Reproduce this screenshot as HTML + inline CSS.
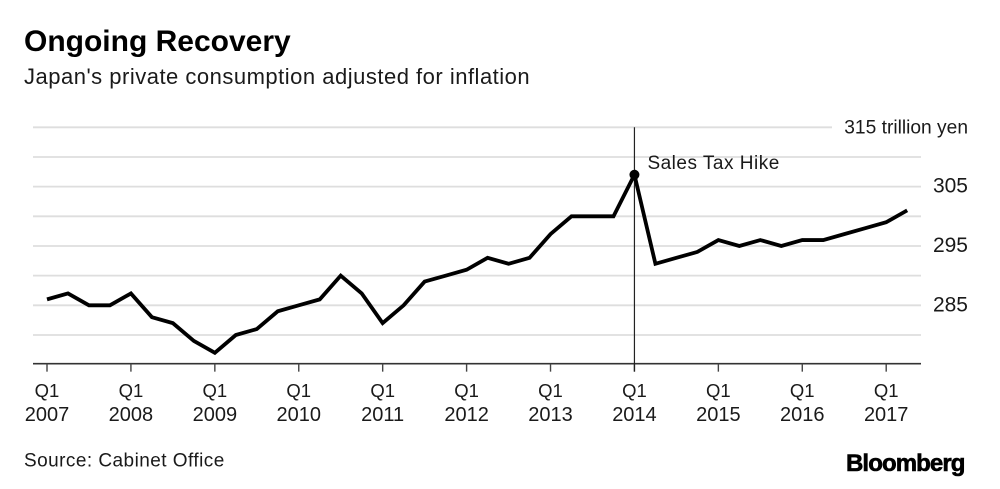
<!DOCTYPE html>
<html>
<head>
<meta charset="utf-8">
<style>
html,body{margin:0;padding:0;background:#fff;}
svg{display:block;}
text{font-family:"Liberation Sans",sans-serif;fill:#1a1a1a;}
</style>
</head>
<body>
<svg id="chart" width="1000" height="489" viewBox="0 0 1000 489" xmlns="http://www.w3.org/2000/svg">
<rect width="1000" height="489" fill="#fff"/>
<text x="24" y="51" font-size="30" font-weight="700" style="fill:#000">Ongoing Recovery</text>
<text x="24" y="84" font-size="22" letter-spacing="0.5">Japan's private consumption adjusted for inflation</text>
<g id="grid"></g>
<g id="yLabels"></g>
<g id="xAxis"></g>
<g id="annotation"></g>
<path id="line" fill="none" stroke="#000" stroke-width="3.8" stroke-linejoin="miter"/>
<circle id="dot" r="5" fill="#000"/>
<text x="24" y="466.5" font-size="19" letter-spacing="0.45">Source: Cabinet Office</text>
<text x="846" y="471" font-size="24" font-weight="700" style="fill:#000" letter-spacing="-0.9" stroke="#000" stroke-width="0.6">Bloomberg</text>
</svg>
<script>
const years = [2007, 2008, 2009, 2010, 2011, 2012, 2013, 2014, 2015, 2016, 2017];
const consumption = [
  286, 287, 285, 285,
  287, 283, 282, 279,
  277, 280, 281, 284,
  285, 286, 290, 287,
  282, 285, 289, 290,
  291, 293, 292, 293,
  297, 300, 300, 300,
  307, 292, 293, 294,
  296, 295, 296, 295,
  296, 296, 297, 298,
  299, 301
];
const gridValues = [315, 310, 305, 300, 295, 290, 285, 280];
const yTickLabels = ['315 trillion yen', '305', '295', '285'];
const yTickValues = [315, 305, 295, 285];
const axisBaseValue = 275;
const hikeIndex = 28;
const hikeLabel = 'Sales Tax Hike';

const NS = 'http://www.w3.org/2000/svg';
const xScale = i => 47 + i * 20.98;
const yScale = v => 127.3 + (315 - v) * 5.934;
const axisY = yScale(axisBaseValue) - 1;

const grid = document.getElementById('grid');
gridValues.forEach(v => {
  const l = document.createElementNS(NS, 'line');
  
  
  l.setAttribute('x1', 33);
  l.setAttribute('x2', v === 315 ? 832 : 921);
  l.setAttribute('y1', yScale(v));
  l.setAttribute('y2', yScale(v));
  l.setAttribute('stroke', '#dedede');
  l.setAttribute('stroke-width', 1.8);
  grid.appendChild(l);
});

const yLabels = document.getElementById('yLabels');
yTickValues.forEach((v, i) => {
  const t = document.createElementNS(NS, 'text');
  
  
  t.setAttribute('x', 968);
  t.setAttribute('y', yScale(v) + 6);
  t.setAttribute('text-anchor', 'end');
  t.setAttribute('font-size', i === 0 ? 19.2 : 21);
  t.textContent = yTickLabels[i];
  yLabels.appendChild(t);
});

const xAxis = document.getElementById('xAxis');
const base = document.createElementNS(NS, 'line');


base.setAttribute('x1', 33);
base.setAttribute('x2', 921);
base.setAttribute('y1', axisY);
base.setAttribute('y2', axisY);
base.setAttribute('stroke', '#333');
base.setAttribute('stroke-width', 1.6);
xAxis.appendChild(base);

years.forEach((yr, i) => {
  const x = xScale(i * 4);
  const tick = document.createElementNS(NS, 'line');
  
  
  tick.setAttribute('x1', x);
  tick.setAttribute('x2', x);
  tick.setAttribute('y1', axisY);
  tick.setAttribute('y2', axisY + 8);
  tick.setAttribute('stroke', '#444');
  tick.setAttribute('stroke-width', 1.4);
  xAxis.appendChild(tick);

  const q = document.createElementNS(NS, 'text');
  
  
  q.setAttribute('x', x);
  q.setAttribute('y', 397);
  q.setAttribute('text-anchor', 'middle');
  q.setAttribute('font-size', 18.5);
  q.textContent = 'Q1';
  xAxis.appendChild(q);

  const y = document.createElementNS(NS, 'text');
  
  
  y.setAttribute('x', x);
  y.setAttribute('y', 421);
  y.setAttribute('text-anchor', 'middle');
  y.setAttribute('font-size', 20);
  y.textContent = yr;
  xAxis.appendChild(y);
});

const ann = document.getElementById('annotation');
const vline = document.createElementNS(NS, 'line');


vline.setAttribute('x1', xScale(hikeIndex));
vline.setAttribute('x2', xScale(hikeIndex));
vline.setAttribute('y1', yScale(315));
vline.setAttribute('y2', axisY + 8);
vline.setAttribute('stroke', '#222');
vline.setAttribute('stroke-width', 1.2);
ann.appendChild(vline);

const lbl = document.createElementNS(NS, 'text');


lbl.setAttribute('x', xScale(hikeIndex) + 13);
lbl.setAttribute('y', yScale(consumption[hikeIndex]) - 6);
lbl.setAttribute('font-size', 19);
lbl.setAttribute('letter-spacing', '0.5');
lbl.textContent = hikeLabel;
ann.appendChild(lbl);

document.getElementById('line').setAttribute('d',
  consumption.map((v, i) => (i ? 'L' : 'M') + xScale(i).toFixed(2) + ' ' + yScale(v).toFixed(2)).join(' '));
const dot = document.getElementById('dot');
dot.setAttribute('cx', xScale(hikeIndex));
dot.setAttribute('cy', yScale(consumption[hikeIndex]));
</script>
</body>
</html>
